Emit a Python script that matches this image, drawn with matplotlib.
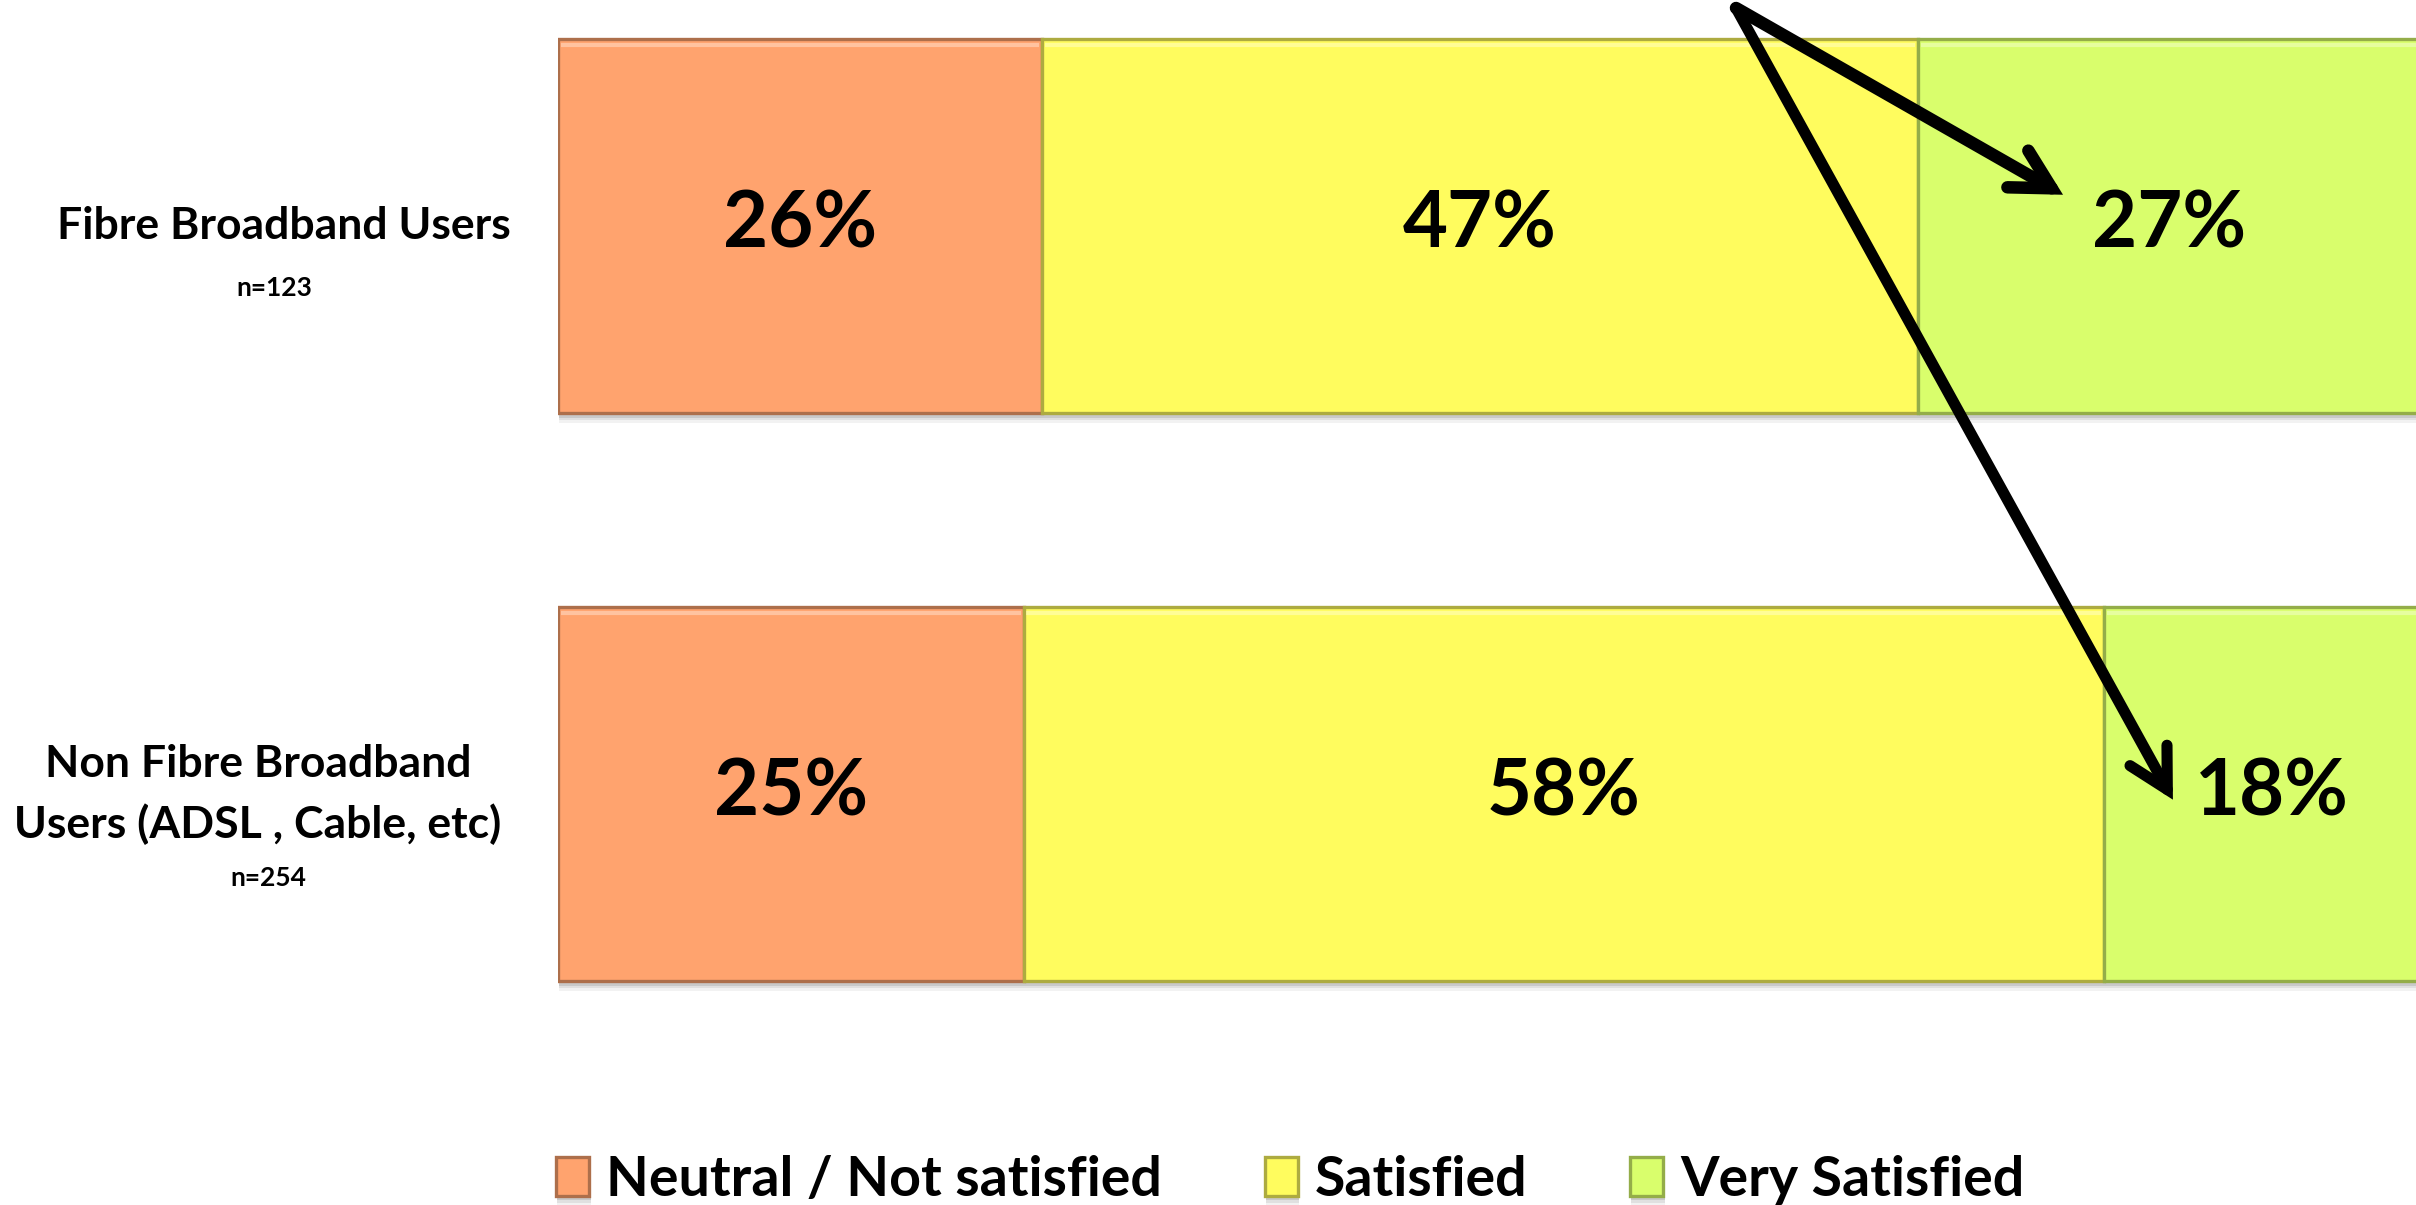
import matplotlib
matplotlib.use("Agg")
import matplotlib.pyplot as plt
from matplotlib.patheffects import SimplePatchShadow, Normal
from matplotlib.colors import to_rgb
import numpy as np

plt.rcParams['font.family'] = ['Lato', 'DejaVu Sans']

# Survey data
groups = ["Fibre Broadband Users", "Non Fibre Broadband\nUsers (ADSL , Cable, etc)"]
sample_sizes = ["n=123", "n=254"]
categories = ["Neutral / Not satisfied", "Satisfied", "Very Satisfied"]
neutral = [26, 25]
satisfied = [47, 58]
very_satisfied = [27, 18]

colors = ["#FFA36E", "#FFFC5E", "#D9FE6C"]


def shade(c, f):
    r, g, b = to_rgb(c)
    return (r * f, g * f, b * f)


W, H = 2416, 1205
fig = plt.figure(figsize=(W / 100, H / 100), dpi=100)
fig.patch.set_facecolor("white")

ax_top_px, ax_bot_px = 0, 1000
ax = fig.add_axes([558 / W, 1 - ax_bot_px / H, 1 - 558 / W, (ax_bot_px - ax_top_px) / H])
unit = 568.0
ax.set_ylim((ax_bot_px - 226) / unit, (ax_top_px - 226) / unit)
ax.set_xlim(0, 99.75)
ax.axis("off")

ypos = np.arange(len(groups))
bar_h = 0.66
series = [neutral, satisfied, very_satisfied]
left = np.zeros(len(groups))
shadow = [SimplePatchShadow(offset=(1, -7), shadow_rgbFace="#000000", alpha=0.05),
          SimplePatchShadow(offset=(1, -5), shadow_rgbFace="#000000", alpha=0.07),
          SimplePatchShadow(offset=(1, -3), shadow_rgbFace="#000000", alpha=0.10),
          Normal()]
handles = []
for vals, col, name in zip(series, colors, categories):
    bars = ax.barh(ypos, vals, left=left, height=bar_h, color=col,
                   edgecolor=shade(col, 0.68), linewidth=2.4, label=name, zorder=2)
    for b in bars:
        b.set_path_effects(shadow)
        # soft highlight along the top edge of each block
        x0, y0 = b.get_x(), b.get_y()
        ax.plot([x0 + 0.15, x0 + b.get_width() - 0.15], [y0 + 0.012, y0 + 0.012],
                color=(1, 1, 1, 0.35), lw=3, zorder=3, solid_capstyle="butt")
    for yi, (l, v) in enumerate(zip(left, vals)):
        ax.text(l + v / 2, yi, f"{v}%", ha="center", va="center",
                fontsize=56, fontweight="bold", color="black", zorder=5)
    handles.append(bars)
    left = left + np.array(vals)

# Group labels on the left
label_x = [284 / W, 258 / W]
label_y = [226, 795]
for gi, (name, n) in enumerate(zip(groups, sample_sizes)):
    lines = name.split("\n")
    if len(lines) == 1:
        fig.text(label_x[gi], 1 - label_y[gi] / H, lines[0], ha="center", va="center",
                 fontsize=32, fontweight="bold")
        fig.text(label_x[gi] - 10 / W, 1 - (label_y[gi] + 62) / H, n, ha="center", va="center",
                 fontsize=19, fontweight="bold")
    else:
        fig.text(label_x[gi], 1 - (label_y[gi] - 31) / H, lines[0], ha="center", va="center",
                 fontsize=32, fontweight="bold")
        fig.text(label_x[gi], 1 - (label_y[gi] + 29) / H, lines[1], ha="center", va="center",
                 fontsize=32, fontweight="bold")
        fig.text(label_x[gi] + 10 / W, 1 - (label_y[gi] + 83) / H, n, ha="center", va="center",
                 fontsize=19, fontweight="bold")

# Arrows from a common origin to the "Very Satisfied" shares
origin = (1736 / W, 1 - 8 / H)
arrow_kw = dict(xycoords="data", textcoords="figure fraction")
ax.annotate("", xy=(80.8, -0.055), xytext=origin, **arrow_kw,
            arrowprops=dict(arrowstyle="->,head_length=0.7,head_width=0.38",
                            lw=9, color="black", mutation_scale=40,
                            shrinkA=0, shrinkB=0, capstyle="round", joinstyle="miter"))
ax.annotate("", xy=(86.7, 1.01), xytext=origin, **arrow_kw,
            arrowprops=dict(arrowstyle="->,head_length=0.7,head_width=0.38",
                            lw=8, color="black", mutation_scale=40,
                            shrinkA=0, shrinkB=0, capstyle="round", joinstyle="miter"))

leg = fig.legend(handles=handles, labels=categories, loc="center",
                 bbox_to_anchor=(1290 / W, 25 / H), ncol=3, frameon=False,
                 prop=dict(size=40, weight="bold"), handlelength=0.6, handleheight=0.7,
                 handletextpad=0.3, columnspacing=1.85)

fig.savefig("out.png", dpi=100, facecolor="white")
